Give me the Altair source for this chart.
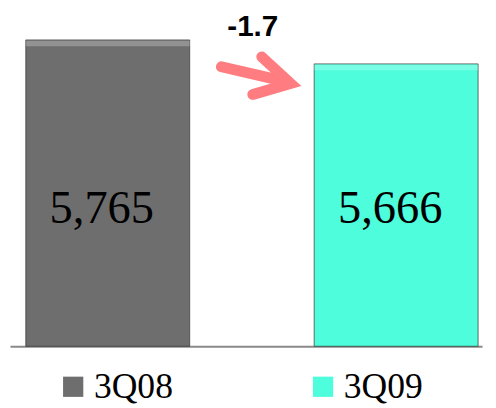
import altair as alt
import pandas as pd

# ---- data ----
quarters = ["3Q08", "3Q09"]
slot = [0, 1]
values = [5765, 5666]
value_labels = ["5,765", "5,666"]
bar_colors = ["#6e6e6e", "#4dfddb"]
y_min, y_max = 4500, 5854
x_min, x_max = -0.339, 1.298
bar_half = 0.2842
label_level = 5067

change_text = ["-1.7"]
change_x = [0.503]
change_y = [5818]

# arrow annotation (x in category-slot units, y in value units)
arrow_part = ["shaft", "shaft", "head", "head", "head"]
arrow_x = [0.394, 0.610, 0.534, 0.634, 0.503]
arrow_y = [5654, 5595, 5695, 5585, 5540]
arrow_order = [0, 1, 0, 1, 2]

bars_df = pd.DataFrame({"quarter": quarters, "slot": slot, "value": values, "label": value_labels})
change_df = pd.DataFrame({"t": change_text, "ax": change_x, "ay": change_y})
arrow_df = pd.DataFrame({"part": arrow_part, "ax": arrow_x, "ay": arrow_y, "ord": arrow_order})

yscale = alt.Scale(domain=[y_min, y_max], nice=False, zero=False)
xscale = alt.Scale(domain=[x_min, x_max], nice=False, zero=False)
xaxis = alt.Axis(title=None, labels=False, ticks=False, grid=False,
                 domainColor="#8a8a8a", domainWidth=2)

base = alt.Chart(bars_df).transform_calculate(
    x0=f"datum.slot - {bar_half}",
    x1=f"datum.slot + {bar_half}",
    ly=f"{label_level}",
)

bars = base.mark_bar(stroke="#333333", strokeWidth=1, strokeOpacity=0.7).encode(
    x=alt.X("x0:Q", scale=xscale, axis=xaxis),
    x2="x1:Q",
    y=alt.Y("value:Q", scale=yscale, axis=None),
    y2=alt.datum(y_min),
    color=alt.Color(
        "quarter:N",
        scale=alt.Scale(domain=quarters, range=bar_colors),
        legend=alt.Legend(
            title=None, orient="none", legendX=46, legendY=355,
            direction="horizontal", symbolType="square", symbolSize=420,
            symbolOpacity=1, symbolStrokeWidth=0,
            labelFont="Liberation Serif", labelFontSize=36, labelColor="black",
            labelOffset=3, columnPadding=134, padding=0,
        ),
    ),
)

# light bevel along the top edge of each bar
bevel = base.mark_rule(color="white", opacity=0.25, strokeWidth=6, yOffset=3.5).encode(
    x=alt.X("x0:Q", scale=xscale, axis=xaxis),
    x2="x1:Q",
    y=alt.Y("value:Q", scale=yscale, axis=None),
)

texts = base.mark_text(font="Liberation Serif", fontSize=47, color="black",
                       baseline="middle", dx=-6).encode(
    x=alt.X("slot:Q", scale=xscale, axis=xaxis),
    y=alt.Y("ly:Q", scale=yscale, axis=None),
    text="label:N",
)

arrow = alt.Chart(arrow_df).mark_line(
    strokeWidth=11, strokeCap="round", strokeJoin="miter", color="#ff7c80"
).encode(
    x=alt.X("ax:Q", scale=xscale, axis=xaxis),
    y=alt.Y("ay:Q", scale=yscale, axis=None),
    detail="part:N",
    order="ord:Q",
)

change = alt.Chart(change_df).mark_text(
    font="Liberation Sans", fontWeight="bold", fontSize=30, color="black", baseline="middle"
).encode(
    x=alt.X("ax:Q", scale=xscale, axis=xaxis),
    y=alt.Y("ay:Q", scale=yscale, axis=None),
    text="t:N",
)

chart = alt.layer(bars, bevel, texts, arrow, change).properties(
    width=478, height=332,
    padding={"left": 2, "top": 8, "right": 6, "bottom": 60},
    autosize=alt.AutoSizeParams(type="none"),
).configure_view(stroke=None)

chart.save("out.html", embed_options={"renderer": "svg", "actions": False})
